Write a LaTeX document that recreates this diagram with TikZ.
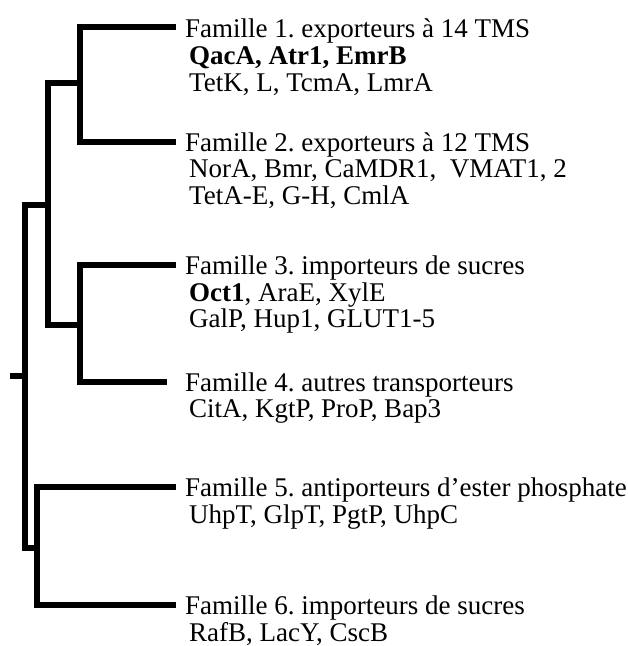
\documentclass[tikz,border=0pt]{standalone}
\usepackage{fontspec}
\setmainfont{Liberation Serif}
\frenchspacing
\begin{document}
\begin{tikzpicture}[x=1pt,y=-1pt,
  lab/.style={anchor=base west,inner sep=0pt,font=\fontsize{27}{27}\selectfont},
  leaf/.style={line width=6pt},
  inner/.style={line width=6pt}]
\useasboundingbox (0,0) rectangle (628,646);
% branch ends
\coordinate (e1) at (176,27);
\coordinate (e2) at (176,142);
\coordinate (e3) at (176,265);
\coordinate (e4) at (167,382);
\coordinate (e5) at (176,487);
\coordinate (e6) at (176,605);
% internal nodes
\coordinate (c12) at (80,83);
\coordinate (c34) at (80,325);
\coordinate (c1234) at (48,205);
\coordinate (c56) at (37,548);
\coordinate (root) at (25,376);
\coordinate (r0) at (10,376);
% tree
\draw[leaf] (c12) |- (e1);
\draw[leaf] (c12) |- (e2);
\draw[leaf] (c34) |- (e3);
\draw[leaf] (c34) |- (e4);
\draw[leaf] (c56) |- (e5);
\draw[leaf] (c56) |- (e6);
\draw[inner] (c1234) |- (c12);
\draw[inner] (c1234) |- (c34);
\draw[inner] (root) |- (c1234);
\draw[inner] (root) |- (c56);
\draw[inner] (r0) -- (root);
% labels
\node[lab] (f1a) at (185,37) {Famille 1. exporteurs à 14 TMS};
\node[lab] (f1b) at (189,64) {\bfseries QacA, Atr1, EmrB};
\node[lab] (f1c) at (189,91) {TetK, L, TcmA, LmrA};
\node[lab] (f2a) at (185,151) {Famille 2. exporteurs à 12 TMS};
\node[lab] (f2b) at (189,177) {NorA, Bmr, CaMDR1,\ \ VMAT1, 2};
\node[lab] (f2c) at (189,204) {TetA-E, G-H, CmlA};
\node[lab] (f3a) at (185,274) {Famille 3. importeurs de sucres};
\node[lab] (f3b) at (189,301) {\textbf{Oct1}, AraE, XylE};
\node[lab] (f3c) at (189,327) {GalP, Hup1, GLUT1-5};
\node[lab] (f4a) at (185,391) {Famille 4. autres transporteurs};
\node[lab] (f4b) at (189,417) {CitA, KgtP, ProP, Bap3};
\node[lab] (f5a) at (185,496) {Famille 5. antiporteurs d’ester phosphate};
\node[lab] (f5b) at (189,523) {UhpT, GlpT, PgtP, UhpC};
\node[lab] (f6a) at (185,614) {Famille 6. importeurs de sucres};
\node[lab] (f6b) at (189,641) {RafB, LacY, CscB};
\end{tikzpicture}
\end{document}
